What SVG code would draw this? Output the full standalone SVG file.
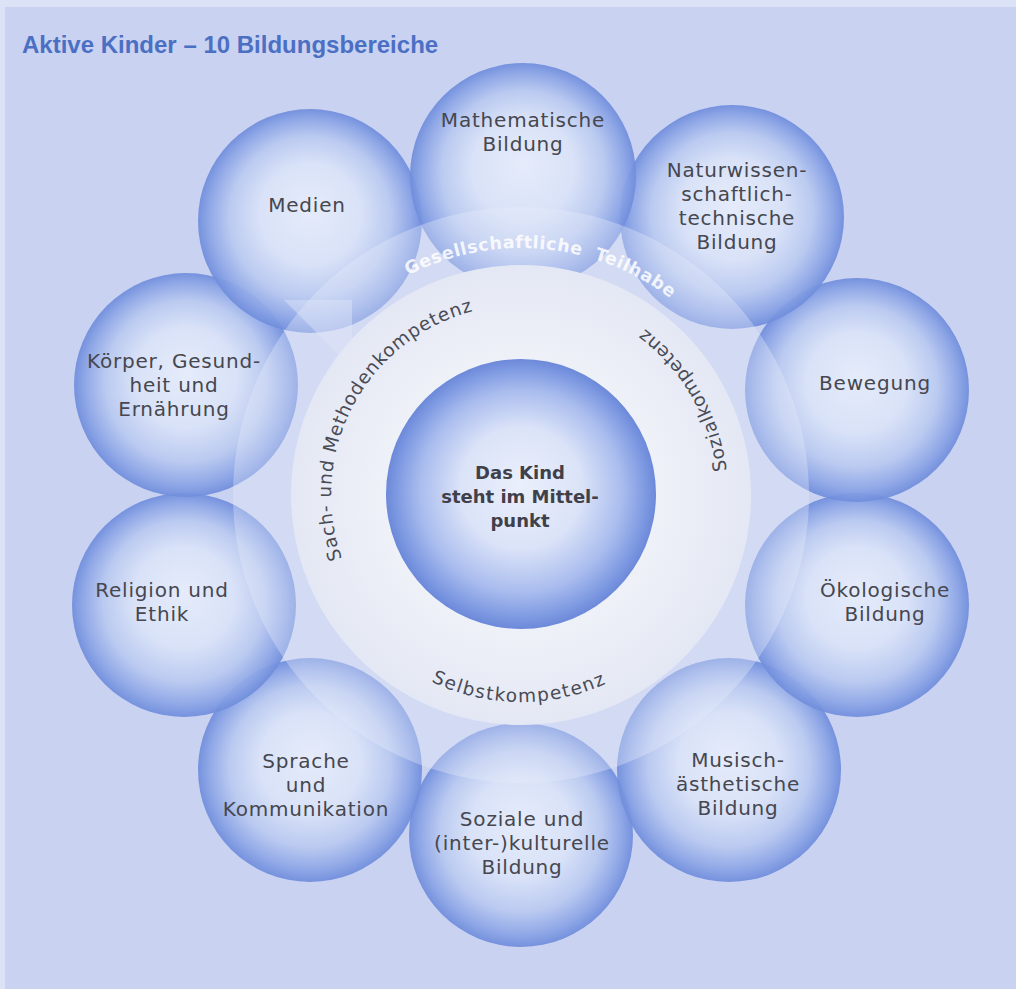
<svg xmlns="http://www.w3.org/2000/svg" width="1016" height="989" viewBox="0 0 1016 989">
<defs>
<radialGradient id="sg" cx="50%" cy="50%" r="50%" fx="50%" fy="44%">
<stop offset="0" stop-color="#e7edfb"/>
<stop offset="0.45" stop-color="#dae3f8"/>
<stop offset="0.72" stop-color="#b9c9f0"/>
<stop offset="0.9" stop-color="#8ca5e6"/>
<stop offset="1" stop-color="#6f8ddc"/>
</radialGradient>
<radialGradient id="cg" cx="50%" cy="50%" r="50%" fx="50%" fy="46%">
<stop offset="0" stop-color="#eaeffb"/>
<stop offset="0.45" stop-color="#dbe3f8"/>
<stop offset="0.75" stop-color="#a9bcee"/>
<stop offset="0.93" stop-color="#7c98e1"/>
<stop offset="1" stop-color="#6c89da"/>
</radialGradient>
<radialGradient id="wg" gradientUnits="userSpaceOnUse" cx="521" cy="495" r="230">
<stop offset="0.58" stop-color="#eff1f8"/>
<stop offset="1" stop-color="#e4e8f4"/>
</radialGradient>
<path id="pGes" d="M274,495 A247,247 0 0 1 768,495"/>
<path id="pSach" d="M521,685 A190,190 0 0 1 521,305"/>
<path id="pCCW" d="M314,495 A207,207 0 0 0 728,495 A207,207 0 0 0 521,288"/>
</defs>
<style>
.sphere{fill:url(#sg);opacity:0.93}
.lbl{font-family:"DejaVu Sans",sans-serif;font-size:20px;letter-spacing:0.8px;fill:#46474f;text-anchor:middle}
.ctr{font-family:"DejaVu Sans",sans-serif;font-size:18px;font-weight:bold;fill:#3f4049;text-anchor:middle}
.comp{font-family:"DejaVu Sans",sans-serif;font-size:18.5px;fill:#4a4b55;letter-spacing:0.8px}
.ges{font-family:"DejaVu Sans",sans-serif;font-size:17.5px;font-weight:bold;fill:#ffffff;fill-opacity:0.85;letter-spacing:0.6px;word-spacing:6px}
</style>
<rect x="0" y="0" width="1016" height="989" fill="#c9d2f1"/>
<rect x="0" y="0" width="1016" height="7" fill="#dde3f6"/>
<rect x="0" y="0" width="5" height="989" fill="#dde3f6"/>
<text x="22" y="53" font-family="Liberation Sans, Arial, sans-serif" font-size="24" font-weight="bold" fill="#4b6fc3">Aktive Kinder – 10 Bildungsbereiche</text>

<g id="sphere-soziale"><circle class="sphere" cx="521" cy="835" r="112"/></g>
<g id="sphere-sprache"><circle class="sphere" cx="310" cy="770" r="112"/></g>
<g id="sphere-musisch"><circle class="sphere" cx="729" cy="770" r="112"/></g>
<g id="sphere-religion"><circle class="sphere" cx="184" cy="605" r="112"/></g>
<g id="sphere-oekologie"><circle class="sphere" cx="857" cy="605" r="112"/></g>
<g id="sphere-koerper"><circle class="sphere" cx="186" cy="385" r="112"/></g>
<g id="sphere-bewegung"><circle class="sphere" cx="857" cy="390" r="112"/></g>
<g id="sphere-medien"><circle class="sphere" cx="310" cy="221" r="112"/></g>
<g id="sphere-natur"><circle class="sphere" cx="732" cy="217" r="112"/></g>
<g id="sphere-mathe"><circle class="sphere" cx="523" cy="176" r="113"/></g>

<g id="ring">
<circle cx="521" cy="495" r="288" fill="#e6ecfa" fill-opacity="0.36"/>
<polygon points="284,300 352,300 352,368" fill="#dfe6f8" fill-opacity="0.45"/>
<text class="ges"><textPath href="#pGes" startOffset="409.6" text-anchor="middle">Gesellschaftliche Teilhabe</textPath></text>
</g>

<g id="kompetenzen">
<circle cx="521" cy="495" r="230" fill="url(#wg)"/>
<text class="comp"><textPath href="#pSach" startOffset="391" text-anchor="middle">Sach- und Methodenkompetenz</textPath></text>
<text class="comp" style="letter-spacing:1.5px"><textPath href="#pCCW" startOffset="323" text-anchor="middle">Selbstkompetenz</textPath></text>
<text class="comp"><textPath href="#pCCW" startOffset="759" text-anchor="middle">Sozialkompetenz</textPath></text>
</g>

<g id="kind">
<circle cx="521" cy="494" r="135" fill="url(#cg)"/>
<text class="ctr" x="520" y="479">Das Kind</text>
<text class="ctr" x="520" y="503">steht im Mittel-</text>
<text class="ctr" x="520" y="527">punkt</text>
</g>

<g id="labels">
<text class="lbl" x="523" y="127">Mathematische</text>
<text class="lbl" x="523" y="151">Bildung</text>
<text class="lbl" x="737" y="177">Naturwissen-</text>
<text class="lbl" x="737" y="201">schaftlich-</text>
<text class="lbl" x="737" y="225">technische</text>
<text class="lbl" x="737" y="249">Bildung</text>
<text class="lbl" x="875" y="390">Bewegung</text>
<text class="lbl" x="885" y="597">Ökologische</text>
<text class="lbl" x="885" y="621">Bildung</text>
<text class="lbl" x="738" y="767">Musisch-</text>
<text class="lbl" x="738" y="791">ästhetische</text>
<text class="lbl" x="738" y="815">Bildung</text>
<text class="lbl" x="522" y="826">Soziale und</text>
<text class="lbl" x="522" y="850">(inter-)kulturelle</text>
<text class="lbl" x="522" y="874">Bildung</text>
<text class="lbl" x="306" y="768">Sprache</text>
<text class="lbl" x="306" y="792">und</text>
<text class="lbl" x="306" y="816">Kommunikation</text>
<text class="lbl" x="162" y="597">Religion und</text>
<text class="lbl" x="162" y="621">Ethik</text>
<text class="lbl" x="174" y="368">Körper, Gesund-</text>
<text class="lbl" x="174" y="392">heit und</text>
<text class="lbl" x="174" y="416">Ernährung</text>
<text class="lbl" x="307" y="212">Medien</text>
</g>
</svg>
